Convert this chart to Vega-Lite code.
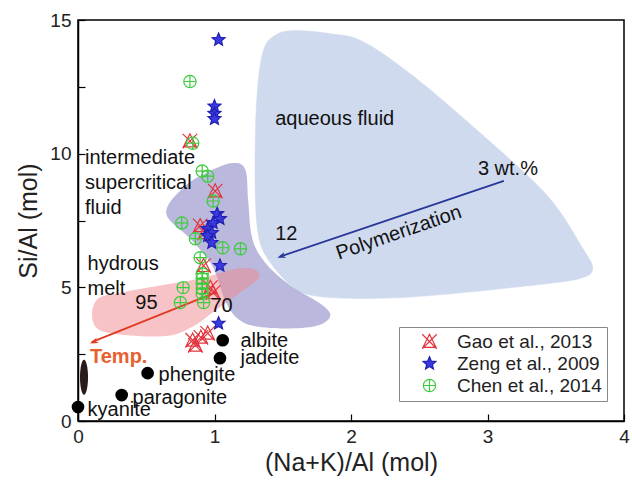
{
  "$schema": "https://vega.github.io/schema/vega-lite/v6.json",
  "width": 546,
  "height": 401,
  "autosize": {"type": "none"},
  "padding": {"left": 78, "top": 20, "right": 8, "bottom": 60},
  "background": "white",
  "config": {
    "view": {"stroke": "black", "strokeWidth": 1.5},
    "font": "Liberation Sans",
    "axis": {"grid": false, "domainColor": "black", "domainWidth": 1.5, "tickColor": "black", "tickWidth": 1.2, "labelColor": "#222", "titleColor": "#222", "labelFont": "Liberation Sans", "titleFont": "Liberation Sans", "titleFontWeight": "normal", "labelOverlap": false, "labelBound": false, "labelFlush": false}
  },
  "datasets": {
    "regions": [
      {"region": "aqueous", "i": 1, "x": 1.43, "y": 14.38},
      {"region": "aqueous", "i": 2, "x": 1.56, "y": 14.6},
      {"region": "aqueous", "i": 3, "x": 1.85, "y": 14.49},
      {"region": "aqueous", "i": 4, "x": 2.09, "y": 14.19},
      {"region": "aqueous", "i": 5, "x": 2.46, "y": 12.89},
      {"region": "aqueous", "i": 6, "x": 2.95, "y": 10.76},
      {"region": "aqueous", "i": 7, "x": 3.44, "y": 8.42},
      {"region": "aqueous", "i": 8, "x": 3.7, "y": 6.44},
      {"region": "aqueous", "i": 9, "x": 3.77, "y": 5.7},
      {"region": "aqueous", "i": 10, "x": 3.68, "y": 5.33},
      {"region": "aqueous", "i": 11, "x": 3.32, "y": 5.07},
      {"region": "aqueous", "i": 12, "x": 2.58, "y": 4.69},
      {"region": "aqueous", "i": 13, "x": 2.09, "y": 4.58},
      {"region": "aqueous", "i": 14, "x": 1.72, "y": 4.69},
      {"region": "aqueous", "i": 15, "x": 1.56, "y": 5.07},
      {"region": "aqueous", "i": 16, "x": 1.41, "y": 5.92},
      {"region": "aqueous", "i": 17, "x": 1.33, "y": 6.74},
      {"region": "aqueous", "i": 18, "x": 1.3, "y": 8.23},
      {"region": "aqueous", "i": 19, "x": 1.3, "y": 10.84},
      {"region": "aqueous", "i": 20, "x": 1.32, "y": 12.7},
      {"region": "aqueous", "i": 21, "x": 1.36, "y": 13.89},
      {"region": "super", "i": 1, "x": 0.646, "y": 7.78},
      {"region": "super", "i": 2, "x": 0.785, "y": 8.79},
      {"region": "super", "i": 3, "x": 0.968, "y": 9.35},
      {"region": "super", "i": 4, "x": 1.13, "y": 9.65},
      {"region": "super", "i": 5, "x": 1.225, "y": 9.42},
      {"region": "super", "i": 6, "x": 1.247, "y": 8.23},
      {"region": "super", "i": 7, "x": 1.277, "y": 6.82},
      {"region": "super", "i": 8, "x": 1.372, "y": 5.92},
      {"region": "super", "i": 9, "x": 1.555, "y": 5.07},
      {"region": "super", "i": 10, "x": 1.776, "y": 4.39},
      {"region": "super", "i": 11, "x": 1.849, "y": 3.95},
      {"region": "super", "i": 12, "x": 1.761, "y": 3.58},
      {"region": "super", "i": 13, "x": 1.555, "y": 3.46},
      {"region": "super", "i": 14, "x": 1.299, "y": 3.54},
      {"region": "super", "i": 15, "x": 1.167, "y": 3.84},
      {"region": "super", "i": 16, "x": 1.078, "y": 4.51},
      {"region": "super", "i": 17, "x": 0.983, "y": 5.81},
      {"region": "super", "i": 18, "x": 0.822, "y": 6.82},
      {"region": "melt", "i": 1, "x": 0.103, "y": 3.95},
      {"region": "melt", "i": 2, "x": 0.147, "y": 4.58},
      {"region": "melt", "i": 3, "x": 0.308, "y": 4.8},
      {"region": "melt", "i": 4, "x": 0.602, "y": 5.07},
      {"region": "melt", "i": 5, "x": 0.895, "y": 5.33},
      {"region": "melt", "i": 6, "x": 1.167, "y": 5.7},
      {"region": "melt", "i": 7, "x": 1.299, "y": 5.66},
      {"region": "melt", "i": 8, "x": 1.321, "y": 5.33},
      {"region": "melt", "i": 9, "x": 1.189, "y": 4.8},
      {"region": "melt", "i": 10, "x": 1.005, "y": 4.13},
      {"region": "melt", "i": 11, "x": 0.858, "y": 3.58},
      {"region": "melt", "i": 12, "x": 0.675, "y": 3.2},
      {"region": "melt", "i": 13, "x": 0.382, "y": 3.2},
      {"region": "melt", "i": 14, "x": 0.161, "y": 3.39}
    ],
    "samples": [
      {"src": "Gao et al., 2013", "x": 0.82, "y": 10.47},
      {"src": "Gao et al., 2013", "x": 1.005, "y": 8.6},
      {"src": "Gao et al., 2013", "x": 0.895, "y": 7.3},
      {"src": "Gao et al., 2013", "x": 0.93, "y": 7.04},
      {"src": "Gao et al., 2013", "x": 0.92, "y": 5.81},
      {"src": "Gao et al., 2013", "x": 0.97, "y": 4.99},
      {"src": "Gao et al., 2013", "x": 0.99, "y": 4.8},
      {"src": "Gao et al., 2013", "x": 0.84, "y": 3.02},
      {"src": "Gao et al., 2013", "x": 0.9, "y": 3.13},
      {"src": "Gao et al., 2013", "x": 0.95, "y": 3.28},
      {"src": "Gao et al., 2013", "x": 0.86, "y": 2.83},
      {"src": "Zeng et al., 2009", "x": 1.03, "y": 14.26},
      {"src": "Zeng et al., 2009", "x": 1.0, "y": 11.77},
      {"src": "Zeng et al., 2009", "x": 1.0, "y": 11.5},
      {"src": "Zeng et al., 2009", "x": 1.0, "y": 11.3},
      {"src": "Zeng et al., 2009", "x": 1.02, "y": 7.75},
      {"src": "Zeng et al., 2009", "x": 1.04, "y": 7.56},
      {"src": "Zeng et al., 2009", "x": 0.99, "y": 7.41},
      {"src": "Zeng et al., 2009", "x": 0.95, "y": 7.19},
      {"src": "Zeng et al., 2009", "x": 0.98, "y": 7.04},
      {"src": "Zeng et al., 2009", "x": 0.95, "y": 6.93},
      {"src": "Zeng et al., 2009", "x": 0.98, "y": 6.67},
      {"src": "Zeng et al., 2009", "x": 1.04, "y": 5.81},
      {"src": "Zeng et al., 2009", "x": 1.03, "y": 3.65},
      {"src": "Chen et al., 2014", "x": 0.82, "y": 12.7},
      {"src": "Chen et al., 2014", "x": 0.84, "y": 10.39},
      {"src": "Chen et al., 2014", "x": 0.91, "y": 9.35},
      {"src": "Chen et al., 2014", "x": 0.95, "y": 9.16},
      {"src": "Chen et al., 2014", "x": 0.99, "y": 8.23},
      {"src": "Chen et al., 2014", "x": 0.76, "y": 7.41},
      {"src": "Chen et al., 2014", "x": 0.86, "y": 6.82},
      {"src": "Chen et al., 2014", "x": 1.06, "y": 6.48},
      {"src": "Chen et al., 2014", "x": 1.19, "y": 6.44},
      {"src": "Chen et al., 2014", "x": 0.895, "y": 6.11},
      {"src": "Chen et al., 2014", "x": 0.91, "y": 5.51},
      {"src": "Chen et al., 2014", "x": 0.91, "y": 5.33},
      {"src": "Chen et al., 2014", "x": 0.91, "y": 5.14},
      {"src": "Chen et al., 2014", "x": 0.91, "y": 4.95},
      {"src": "Chen et al., 2014", "x": 0.91, "y": 4.77},
      {"src": "Chen et al., 2014", "x": 0.77, "y": 4.99},
      {"src": "Chen et al., 2014", "x": 0.75, "y": 4.43},
      {"src": "Chen et al., 2014", "x": 0.92, "y": 4.43}
    ],
    "minerals": [
      {"name": "kyanite", "x": 0.0, "y": 0.52, "lx": 0.07, "ly": 0.41},
      {"name": "paragonite", "x": 0.32, "y": 0.97, "lx": 0.4, "ly": 0.86},
      {"name": "phengite", "x": 0.51, "y": 1.79, "lx": 0.59, "ly": 1.71},
      {"name": "albite", "x": 1.06, "y": 3.02, "lx": 1.19, "ly": 3.0},
      {"name": "jadeite", "x": 1.04, "y": 2.35, "lx": 1.19, "ly": 2.35}
    ],
    "labels": [
      {"t": "aqueous fluid", "x": 1.445, "y": 11.28},
      {"t": "3 wt.%", "x": 2.93, "y": 9.42},
      {"t": "12", "x": 1.445, "y": 7.0},
      {"t": "95", "x": 0.42, "y": 4.43},
      {"t": "70", "x": 0.97, "y": 4.3},
      {"t": "intermediate", "x": 0.051, "y": 9.83},
      {"t": "supercritical", "x": 0.051, "y": 8.9},
      {"t": "fluid", "x": 0.051, "y": 7.97},
      {"t": "hydrous", "x": 0.07, "y": 5.88},
      {"t": "melt", "x": 0.07, "y": 4.95}
    ]
  },
  "layer": [
    {
      "data": {"name": "regions"},
      "transform": [{"filter": "datum.region === 'aqueous'"}],
      "mark": {"type": "line", "interpolate": "cardinal-closed", "fill": "#cfdaee", "stroke": "#cfdaee", "strokeWidth": 0.5},
      "encoding": {
        "x": {"field": "x", "type": "quantitative", "scale": {"domain": [0, 4], "nice": false, "zero": false},
          "axis": {"values": [0, 0.5, 1, 1.5, 2, 2.5, 3, 3.5, 4], "format": "d", "labelExpr": "datum.value % 1 === 0 ? datum.label : ''", "tickSize": -7, "labelPadding": 13, "labelFontSize": 19, "title": "(Na+K)/Al (mol)", "titleFontSize": 25, "titlePadding": 4}},
        "y": {"field": "y", "type": "quantitative", "scale": {"domain": [0, 15], "nice": false, "zero": false},
          "axis": {"values": [0, 2.5, 5, 7.5, 10, 12.5, 15], "format": "d", "labelExpr": "datum.value % 5 === 0 ? datum.label : ''", "tickSize": -7, "labelPadding": 14, "labelFontSize": 19, "title": "Si/Al (mol)", "titleFontSize": 25, "titlePadding": 8}},
        "order": {"field": "i", "type": "quantitative"}
      }
    },
    {
      "data": {"name": "regions"},
      "transform": [{"filter": "datum.region === 'super'"}],
      "mark": {"type": "line", "interpolate": "cardinal-closed", "fill": "#8884c4", "fillOpacity": 0.58, "stroke": null},
      "encoding": {
        "x": {"field": "x", "type": "quantitative"},
        "y": {"field": "y", "type": "quantitative"},
        "order": {"field": "i", "type": "quantitative"}
      }
    },
    {
      "data": {"name": "regions"},
      "transform": [{"filter": "datum.region === 'melt'"}],
      "mark": {"type": "line", "interpolate": "cardinal-closed", "fill": "#f08890", "fillOpacity": 0.5, "stroke": null},
      "encoding": {
        "x": {"field": "x", "type": "quantitative"},
        "y": {"field": "y", "type": "quantitative"},
        "order": {"field": "i", "type": "quantitative"}
      }
    },
    {
      "data": {"values": [{"x": 1.005, "y": 4.8, "x2": 0.1, "y2": 2.95}]},
      "mark": {"type": "rule", "color": "#e03a22", "strokeWidth": 1.8},
      "encoding": {
        "x": {"field": "x", "type": "quantitative"}, "y": {"field": "y", "type": "quantitative"},
        "x2": {"field": "x2"}, "y2": {"field": "y2"}
      }
    },
    {
      "data": {"values": [{"x": 0.088, "y": 2.9}]},
      "mark": {"type": "point", "shape": "M0,0 L0.6,1.7 L0,1.2 L-0.6,1.7 Z", "filled": true, "color": "#e03a22", "opacity": 1, "size": 100, "angle": 247.8},
      "encoding": {"x": {"field": "x", "type": "quantitative"}, "y": {"field": "y", "type": "quantitative"}}
    },
    {
      "data": {"values": [{"x": 3.12, "y": 8.98, "x2": 1.48, "y2": 6.15}]},
      "mark": {"type": "rule", "color": "#2a3599", "strokeWidth": 1.8},
      "encoding": {
        "x": {"field": "x", "type": "quantitative"}, "y": {"field": "y", "type": "quantitative"},
        "x2": {"field": "x2"}, "y2": {"field": "y2"}
      }
    },
    {
      "data": {"values": [{"x": 1.46, "y": 6.11}]},
      "mark": {"type": "point", "shape": "M0,0 L0.6,1.7 L0,1.2 L-0.6,1.7 Z", "filled": true, "color": "#2a3599", "opacity": 1, "size": 100, "angle": 251.2},
      "encoding": {"x": {"field": "x", "type": "quantitative"}, "y": {"field": "y", "type": "quantitative"}}
    },
    {
      "data": {"name": "samples"},
      "mark": {"type": "point", "opacity": 1, "strokeWidth": 1.2},
      "encoding": {
        "x": {"field": "x", "type": "quantitative"},
        "y": {"field": "y", "type": "quantitative"},
        "shape": {"field": "src", "type": "nominal", "scale": {"domain": ["Gao et al., 2013", "Zeng et al., 2009", "Chen et al., 2014"], "range": ["M-1,-1 L1,1 M1,-1 L-1,1 M0,-1 L0.9,0.8 L-0.9,0.8 Z", "M0,-1 L0.265,-0.364 L0.951,-0.309 L0.428,0.139 L0.588,0.809 L0,0.45 L-0.588,0.809 L-0.428,0.139 L-0.951,-0.309 L-0.265,-0.364 Z", "M-1,0 A1,1 0 1,0 1,0 A1,1 0 1,0 -1,0 M-1,0 L1,0 M0,-1 L0,1"]},
          "legend": {"title": null, "orient": "none", "legendX": 321, "legendY": 307, "padding": 5, "strokeColor": "#888", "fillColor": "white", "labelFontSize": 19, "labelFont": "Liberation Sans", "labelColor": "#222", "symbolOffset": 16, "labelOffset": 18, "rowPadding": 2, "symbolStrokeWidth": 1.2}},
        "stroke": {"field": "src", "type": "nominal", "scale": {"domain": ["Gao et al., 2013", "Zeng et al., 2009", "Chen et al., 2014"], "range": ["#e2343c", "#2020b0", "#3ccc3c"]}},
        "fill": {"field": "src", "type": "nominal", "scale": {"domain": ["Gao et al., 2013", "Zeng et al., 2009", "Chen et al., 2014"], "range": ["transparent", "#3a3ae0", "transparent"]}},
        "size": {"field": "src", "type": "nominal", "scale": {"domain": ["Gao et al., 2013", "Zeng et al., 2009", "Chen et al., 2014"], "range": [210, 150, 170]}}
      }
    },
    {
      "data": {"values": [{"x": 0.044, "y": 1.64}]},
      "mark": {"type": "point", "shape": "M0,-1 A0.23,1 0 1,1 0,1 A0.23,1 0 1,1 0,-1 Z", "filled": true, "color": "#2a1c1c", "opacity": 1, "size": 1225},
      "encoding": {"x": {"field": "x", "type": "quantitative"}, "y": {"field": "y", "type": "quantitative"}}
    },
    {
      "data": {"name": "minerals"},
      "mark": {"type": "circle", "color": "black", "opacity": 1, "size": 160},
      "encoding": {"x": {"field": "x", "type": "quantitative"}, "y": {"field": "y", "type": "quantitative"}}
    },
    {
      "data": {"name": "minerals"},
      "mark": {"type": "text", "align": "left", "baseline": "middle", "fontSize": 20, "color": "#111"},
      "encoding": {"x": {"field": "lx", "type": "quantitative"}, "y": {"field": "ly", "type": "quantitative"}, "text": {"field": "name"}}
    },
    {
      "data": {"name": "labels"},
      "mark": {"type": "text", "align": "left", "baseline": "middle", "fontSize": 20, "color": "#111"},
      "encoding": {"x": {"field": "x", "type": "quantitative"}, "y": {"field": "y", "type": "quantitative"}, "text": {"field": "t"}}
    },
    {
      "data": {"values": [{"t": "Temp.", "x": 0.088, "y": 2.38}]},
      "mark": {"type": "text", "align": "left", "baseline": "middle", "fontSize": 20, "fontWeight": "bold", "color": "#e8602e"},
      "encoding": {"x": {"field": "x", "type": "quantitative"}, "y": {"field": "y", "type": "quantitative"}, "text": {"field": "t"}}
    },
    {
      "data": {"values": [{"t": "Polymerization", "x": 2.35, "y": 7.04}]},
      "mark": {"type": "text", "align": "center", "baseline": "middle", "fontSize": 20, "angle": 341, "color": "#111"},
      "encoding": {"x": {"field": "x", "type": "quantitative"}, "y": {"field": "y", "type": "quantitative"}, "text": {"field": "t"}}
    }
  ]
}
